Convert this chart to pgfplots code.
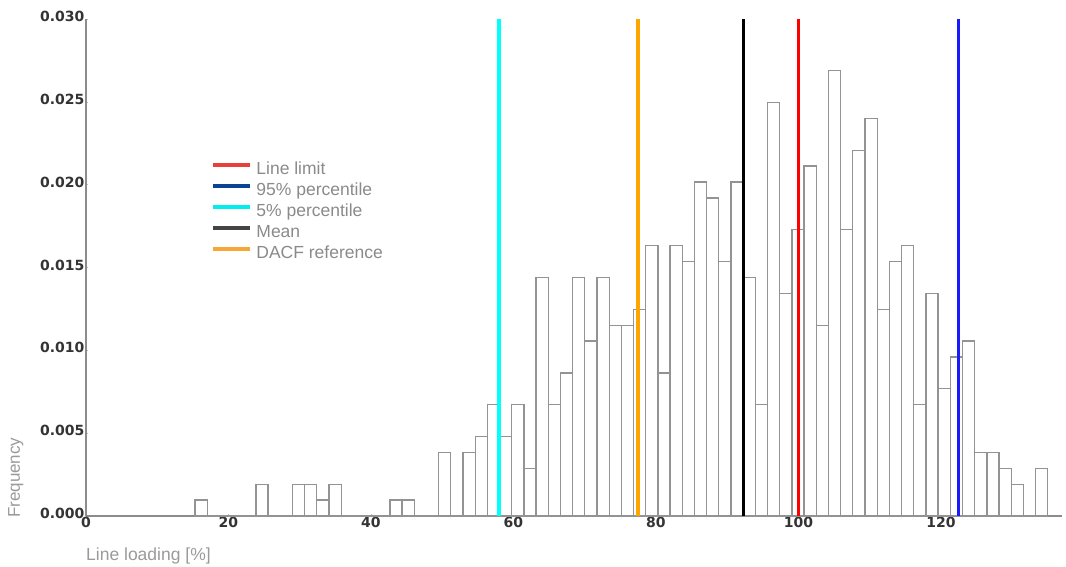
\documentclass[border=0pt]{standalone}
\usepackage{fontspec}
\setmainfont{Liberation Sans}
\newfontfamily\tickfont{DejaVu Sans}
\usepackage{pgfplots}
\usepackage{pgfplotstable}
\pgfplotsset{compat=1.18}
\definecolor{barc}{HTML}{939393}
\definecolor{axisgray}{HTML}{8C8C8C}
\definecolor{labgray}{HTML}{9A9A9A}
\definecolor{leggray}{HTML}{8A8A8A}
\definecolor{legred}{HTML}{E8413C}
\definecolor{legblue}{HTML}{0B4494}
\definecolor{legcyan}{HTML}{00EEEE}
\definecolor{legdark}{HTML}{444444}
\definecolor{legorange}{HTML}{F6A735}
\definecolor{lcyan}{HTML}{00FFFF}
\definecolor{lorange}{HTML}{FFA500}
\definecolor{lred}{HTML}{FF0000}
\definecolor{lblue}{HTML}{1A1AFF}

\pgfplotstableread{
x y
15.30 0.00096
17.01 0
18.72 0
20.43 0
22.14 0
23.85 0.00192
25.56 0
27.27 0
28.98 0.00192
30.69 0.00192
32.40 0.00096
34.11 0.00192
35.82 0
37.53 0
39.24 0
40.95 0
42.66 0.00096
44.37 0.00096
46.08 0
47.79 0
49.50 0.00384
51.21 0
52.92 0.00384
54.63 0.0048
56.34 0.00672
58.05 0.0048
59.76 0.00672
61.47 0.00288
63.18 0.0144
64.89 0.00672
66.60 0.00864
68.31 0.0144
70.02 0.01056
71.73 0.0144
73.44 0.01152
75.15 0.01152
76.86 0.01248
78.57 0.01632
80.28 0.00864
81.99 0.01632
83.70 0.01536
85.41 0.02016
87.12 0.0192
88.83 0.01536
90.54 0.02016
92.25 0.0144
93.96 0.00672
95.67 0.02496
97.38 0.01344
99.09 0.01728
100.80 0.02112
102.51 0.01152
104.22 0.02688
105.93 0.01728
107.64 0.02208
109.35 0.024
111.06 0.01248
112.77 0.01536
114.48 0.01632
116.19 0.00672
117.90 0.01344
119.61 0.00768
121.32 0.0096
123.03 0.01056
124.74 0.00384
126.45 0.00384
128.16 0.00288
129.87 0.00192
131.58 0
133.29 0.00288
135.00 0
}\histdata

\begin{document}
\begin{tikzpicture}
\begin{axis}[
  scale only axis, width=976bp, height=497bp,
  xmin=0, xmax=137, ymin=0, ymax=0.030,
  axis x line*=bottom, axis y line*=left,
  axis line style={draw=axisgray, line width=1.2bp, -},
  xtick={0,20,40,60,80,100,120},
  ytick={0,0.005,0.010,0.015,0.020,0.025,0.030},
  scaled y ticks=false,
  yticklabel style={/pgf/number format/.cd, fixed, fixed zerofill, precision=3, /tikz/.cd},
  /pgf/number format/assume math mode=true,
  ticklabel style={font=\tickfont\bfseries\fontsize{14bp}{16bp}\selectfont, text=black!80},
  xticklabel style={inner sep=1bp},
  yticklabel style={inner sep=1.5bp, yshift=2.5bp},
  tick align=inside, major tick length=2bp,
  tick style={draw=axisgray!60, line width=0.6bp},
  every axis x label/.style={at={(axis description cs:0,0)}, anchor=west, yshift=-40bp, inner sep=0pt,
     font=\fontsize{17.5bp}{19bp}\selectfont, text=labgray},
  every axis y label/.style={at={(axis description cs:-0.072,0.077)}, rotate=90, anchor=center,
     font=\fontsize{17bp}{19bp}\selectfont, text=labgray},
  xlabel={Line loading [\%]},
  ylabel={Frequency},
  legend style={at={(axis description cs:0.1280,0.7153)}, anchor=north west,
     draw=none, fill=none, inner sep=0pt, outer sep=0pt, row sep=0pt,
     font=\fontsize{17.5bp}{21bp}\selectfont, text=leggray,
     nodes={inner sep=0pt, text height=14bp, text depth=7bp},
     /tikz/every odd column/.append style={column sep=4bp}},
  legend cell align=left,
  legend image code/.code={\draw[#1, line width=4.5bp] (0bp,6bp) -- (37bp,6bp);},
]
\coordinate (SW) at (rel axis cs:0,0);
\coordinate (NE) at (rel axis cs:1,1);
\addplot[ybar interval, fill=white, draw=barc, line width=1.3bp, forget plot] table[x=x,y=y]{\histdata};
\addplot[lcyan, line width=3.5bp, forget plot] coordinates {(58.0,0) (58.0,0.030)};
\addplot[lorange, line width=3.5bp, forget plot] coordinates {(77.5,0) (77.5,0.030)};
\addplot[black, line width=3.5bp, forget plot] coordinates {(92.3,0) (92.3,0.030)};
\addplot[lred, line width=3.5bp, forget plot] coordinates {(100.0,0) (100.0,0.030)};
\addplot[lblue, line width=3.2bp, forget plot] coordinates {(122.5,0) (122.5,0.030)};
\addlegendimage{legred}
\addlegendentry{Line limit}
\addlegendimage{legblue}
\addlegendentry{95\% percentile}
\addlegendimage{legcyan}
\addlegendentry{5\% percentile}
\addlegendimage{legdark}
\addlegendentry{Mean}
\addlegendimage{legorange}
\addlegendentry{DACF reference}
\end{axis}
\pgfresetboundingbox
\path[use as bounding box] ([shift={(-86bp,-51bp)}]SW) rectangle ([shift={(4bp,19bp)}]NE);
\end{tikzpicture}
\end{document}
